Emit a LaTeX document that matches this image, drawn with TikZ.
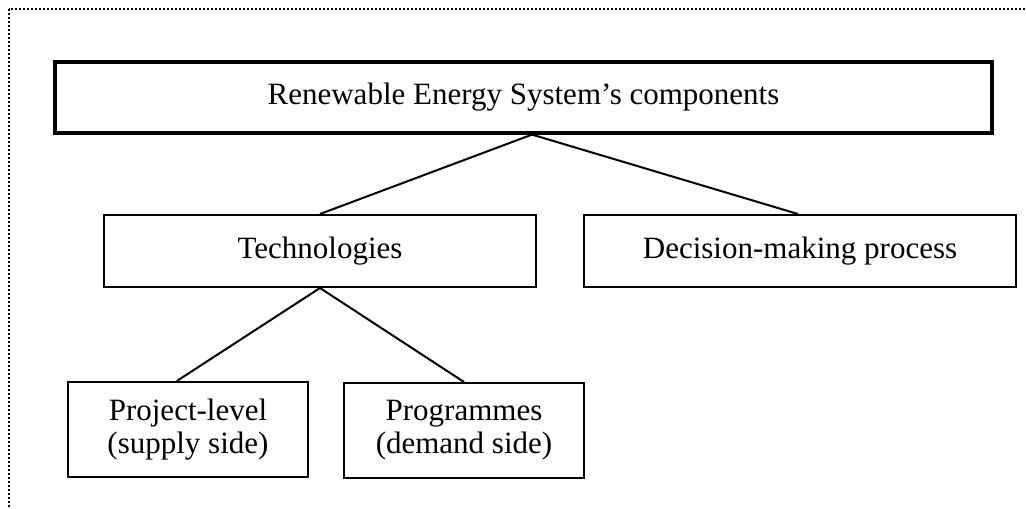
\documentclass[tikz,border=0pt]{standalone}
\usepackage{fontspec}
\setmainfont{Liberation Serif}

\begin{document}
\begin{tikzpicture}[
  x = 0.5pt, y = -0.5pt,
  font = \fontsize{15.5}{16.5}\selectfont,
  box/.style = {rectangle, draw, line width = 1pt, align = center,
    inner sep = 0pt},
  link/.style = {line width = 1pt}
  ]

  \useasboundingbox (0,0) rectangle (1026,508);

  % frame
  \draw [line width = 1.3pt, dash pattern = on 1.2pt off 0.8pt]
  (9,9) rectangle (1060,540);

  % Nodes
  \node at (523.5, 97.5) [box, name = res, line width = 1.6pt,
    minimum width = 468.5pt, minimum height = 35.5pt]
  {Renewable Energy System’s components};

  \node at (320, 251) [box, name = tech,
    minimum width = 216pt, minimum height = 36pt] {Technologies};
  \node at (800, 251) [box, name = dec,
    minimum width = 216pt, minimum height = 36pt] {Decision-making process};

  \node at (188, 429.5) [box, name = proj,
    minimum width = 120pt, minimum height = 47.5pt]
  {Project-level\\(supply side)};
  \node at (464, 430.5) [box, name = prog,
    minimum width = 120pt, minimum height = 47.5pt]
  {Programmes\\(demand side)};

  % Links
  \draw [link] ([xshift = 4.25pt]res.south) -- (tech.north);
  \draw [link] ([xshift = 4.25pt]res.south) -- ([xshift = -1pt]dec.north);

  \draw [link] (tech.south) -- (proj.103);
  \draw [link] (tech.south) -- (prog.north);

\end{tikzpicture}
\end{document}
